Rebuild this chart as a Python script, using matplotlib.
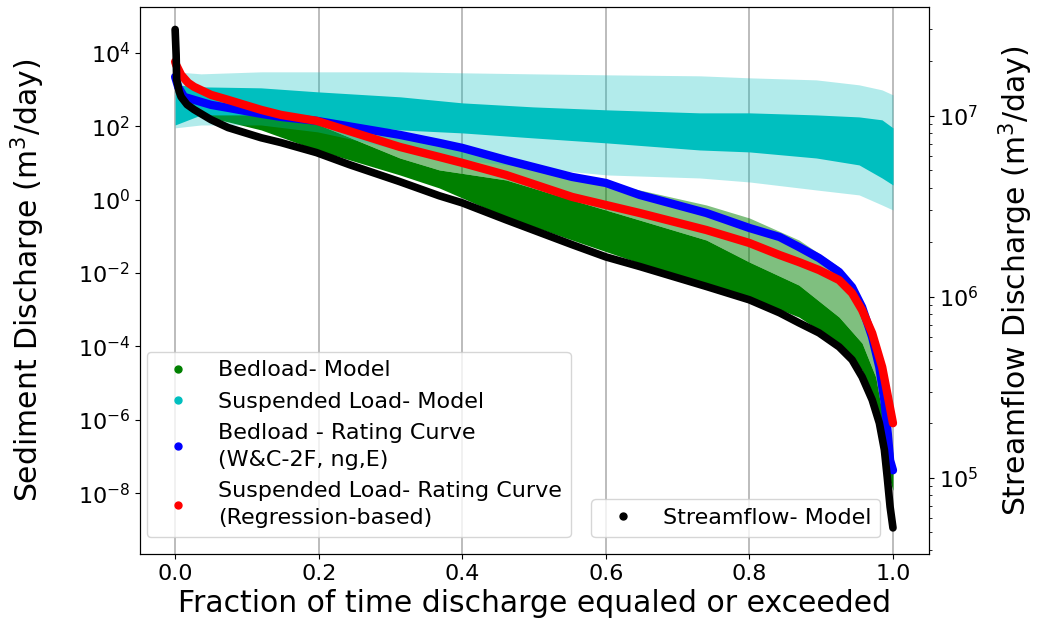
import numpy as np
import matplotlib
matplotlib.use("Agg")
from matplotlib import pyplot as plt
from matplotlib.lines import Line2D
from matplotlib.ticker import NullLocator

# ---- data (fraction of time vs discharge) ----
# streamflow model (right axis, m3/day)
flow_x = [0, 0.0014, 0.0021, 0.0056, 0.0083, 0.0167, 0.0264, 0.05, 0.0738, 0.1197,
          0.1475, 0.197, 0.243, 0.313, 0.368, 0.4, 0.461, 0.553, 0.6, 0.647,
          0.74, 0.8, 0.842, 0.869, 0.897, 0.925, 0.943, 0.957, 0.971, 0.981,
          0.988, 0.992, 0.996, 1.0]
flow_q = [2.99e7, 2.17e7, 1.58e7, 1.36e7, 1.27e7, 1.15e7, 1.08e7, 9.5e6, 8.59e6, 7.55e6,
          7.1e6, 6.25e6, 5.36e6, 4.32e6, 3.61e6, 3.30e6, 2.66e6, 1.94e6, 1.66e6, 1.47e6,
          1.14e6, 9.62e5, 8.16e5, 7.18e5, 6.32e5, 5.29e5, 4.49e5, 3.61e5, 2.70e5, 2.01e5,
          1.43e5, 1.01e5, 6.92e4, 5.30e4]

# bedload rating curve (W&C-2F)
bed_rc_x = [0, 0.0042, 0.0125, 0.0264, 0.05, 0.0738, 0.1197, 0.1475, 0.197, 0.313,
            0.368, 0.4, 0.461, 0.553, 0.6, 0.647, 0.74, 0.8, 0.842, 0.869,
            0.897, 0.925, 0.943, 0.957, 0.971, 0.981, 0.988, 0.992, 0.996, 1.0]
bed_rc_q = [2.21e3, 1.18e3, 630, 522, 381, 316, 217, 179, 140, 58,
            35.0, 25.6, 12.0, 4.14, 2.84, 1.34, 0.431, 0.168, 0.0955, 0.0509,
            0.0255, 0.0106, 4.12e-3, 1.17e-3, 1.78e-4, 2.71e-5, 3.4e-6, 6.24e-7, 7.85e-8, 4.19e-8]

# suspended load rating curve (regression)
sus_rc_x = [0, 0.0014, 0.0083, 0.0181, 0.0264, 0.05, 0.0738, 0.1197, 0.1475, 0.197,
            0.313, 0.368, 0.4, 0.461, 0.553, 0.6, 0.647, 0.74, 0.8, 0.842,
            0.869, 0.897, 0.925, 0.943, 0.957, 0.971, 0.985, 0.992, 1.0]
sus_rc_q = [5.7e3, 4.71e3, 2.51e3, 1.52e3, 1.18e3, 714, 522, 279, 203, 140,
            27.2, 14.5, 10.0, 4.69, 1.18, 0.713, 0.431, 0.148, 0.0655, 0.0308,
            0.0198, 0.012, 6.4e-3, 2.83e-3, 9.73e-4, 2.29e-4, 2.71e-5, 5.28e-6, 8.04e-7]

# bedload model cloud (envelopes)
bed_x = [0.0083, 0.05, 0.0738, 0.1197, 0.197, 0.313, 0.368, 0.461, 0.553, 0.647,
         0.74, 0.8, 0.869, 0.925, 0.957, 0.976, 0.99, 1.0]
bed_dense_hi = [1110, 316, 279, 203, 116, 13.6, 6.43, 3.43, 0.975, 0.277,
                0.079, 0.0198, 4.67e-3, 6.27e-4, 1.22e-4, 1.45e-5, 4.28e-7, 5.06e-8]
bed_dense_lo = [671, 168, 131, 79.2, 22.5, 4.69, 2.07, 0.335, 0.079, 0.0186,
                5.3e-3, 2.2e-3, 6.27e-4, 1.22e-4, 2.24e-5, 2.19e-6, 5.06e-8, 1.19e-8]
bed_sparse_hi = [1110, 406, 358, 245, 149, 48, 30.9, 12.0, 4.14, 1.83,
                 0.713, 0.315, 0.079, 0.0145, 1.17e-3, 7.87e-5, 1.17e-6, 1.22e-7]

# suspended load model cloud (envelopes)
sus_x = [0, 0.0361, 0.1194, 0.1986, 0.3139, 0.4, 0.4986, 0.6014, 0.7306, 0.8,
         0.8931, 0.9528, 0.9847, 1.0]
sus_core_hi = [1340, 1180, 1110, 863, 630, 432, 336, 279, 231, 231, 203, 179, 149, 90]
sus_core_lo = [108, 203, 203, 131, 79.2, 65.6, 48, 35, 22.5, 19.9, 13.6, 8.8, 3.88, 2.5]
sus_out_hi = [3030, 2670, 3030, 3030, 3030, 2850, 2670, 2510, 2360, 2080, 1830, 1340, 977, 714]
sus_out_lo = [90, 108, 108, 69.9, 22.5, 12.0, 7.28, 4.69, 3.88, 3.02, 1.83, 1.34, 0.713, 0.52]

left_ticks = [1e-8, 1e-6, 1e-4, 1e-2, 1e0, 1e2, 1e4]
x_ticks = [0.0, 0.2, 0.4, 0.6, 0.8, 1.0]

fig, ax = plt.subplots(figsize=(10.39, 6.31), dpi=100)
fig.subplots_adjust(left=0.1347, right=0.894, top=0.989, bottom=0.122)

ax.fill_between(bed_x, bed_dense_hi, bed_sparse_hi, color='g', alpha=0.5, lw=0)
ax.fill_between(bed_x, bed_dense_lo, bed_dense_hi, color='g', lw=0)
ax.fill_between(sus_x, sus_out_lo, sus_out_hi, color='c', alpha=0.3, lw=0)
ax.fill_between(sus_x, sus_core_lo, sus_core_hi, color='c', lw=0)
ax.plot(bed_rc_x, bed_rc_q, color='b', lw=6, solid_capstyle='round', solid_joinstyle='round')
ax.plot(sus_rc_x, sus_rc_q, color='r', lw=6, solid_capstyle='round', solid_joinstyle='round')

ax.set_yscale('log')
ax.set_ylim(10**-9.66, 10**5.25)
ax.set_yticks(left_ticks)
ax.yaxis.set_minor_locator(NullLocator())
ax.set_xlim(-0.049, 1.05)
ax.set_xticks(x_ticks)
ax.grid(axis='x', color='#b0b0b0', lw=1.2)
ax.set_axisbelow(True)
ax.tick_params(labelsize=16)
ax.set_xlabel('Fraction of time discharge equaled or exceeded', fontsize=21.5)
ax.set_ylabel('Sediment Discharge (m$^3$/day)', fontsize=21.5, labelpad=22)

handles = [Line2D([], [], ls='none', marker='o', ms=5, color=c) for c in ['g', 'c', 'b', 'r']]
labels = ['Bedload- Model', 'Suspended Load- Model',
          'Bedload - Rating Curve\n(W&C-2F, ng,E)',
          'Suspended Load- Rating Curve\n(Regression-based)']
leg = ax.legend(handles, labels, loc='lower left', bbox_to_anchor=(0.009, 0.031),
                borderaxespad=0, fontsize=16)
for t in leg.get_texts():
    t.set_linespacing(1.45)

ax2 = ax.twinx()
ax2.plot(flow_x, flow_q, color='k', lw=5.5, solid_capstyle='round', solid_joinstyle='round')
ax2.set_yscale('log')
ax2.set_ylim(10**4.58, 10**7.60)
ax2.tick_params(labelsize=16)
ax2.set_ylabel('Streamflow Discharge (m$^3$/day)', fontsize=21.5, labelpad=13)
ax2.legend([Line2D([], [], ls='none', marker='o', ms=5, color='k')], ['Streamflow- Model'],
           loc='lower right', bbox_to_anchor=(0.938, 0.031), borderaxespad=0, fontsize=16)

plt.savefig('out.png', dpi=100)
